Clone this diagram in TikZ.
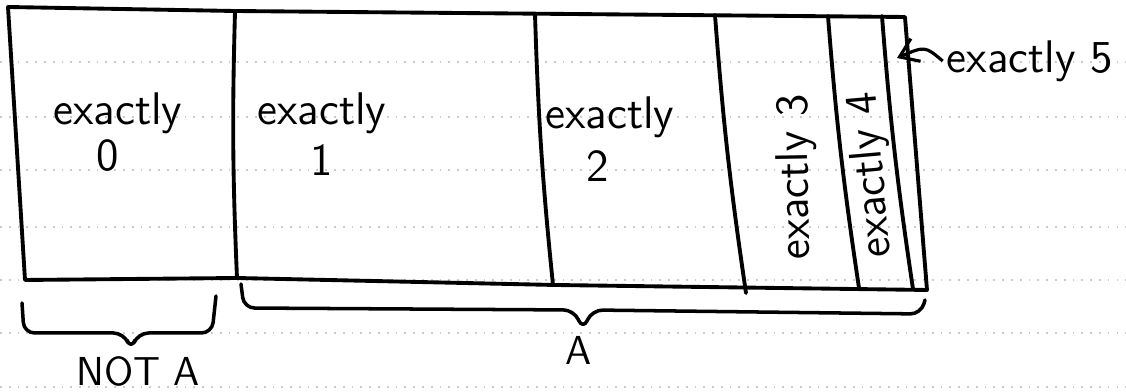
\documentclass[tikz,border=0pt]{standalone}
\usepackage{tikz}
\usetikzlibrary{arrows.meta, calc}

\begin{document}
\begin{tikzpicture}[
    x=0.01cm, y=-0.01cm,
    ink/.style={line width=1.1pt, line join=round, line cap=round},
    brc/.style={line width=1pt, line join=round, line cap=round, rounded corners=3pt},
    hand/.style={font=\sffamily\fontsize{13}{15}\selectfont, inner sep=1pt},
    setlabel/.style={font=\sffamily\fontsize{11.5}{13}\selectfont, inner sep=0pt},
    ruling/.style={gray!40, dotted, line width=0.5pt}
  ]
  \useasboundingbox (0,0) rectangle (1126,392);

  % ruled paper
  \foreach \y in {62,117,170,227,280,333,387}
    \draw[ruling] (0,\y) -- (1126,\y);

  % corners of the box
  \coordinate (tl) at (8,7);
  \coordinate (tr) at (905,17);
  \coordinate (br) at (927,290);
  \coordinate (bl) at (25,280);

  % outer box
  \draw[ink] (tl) -- (234,11) -- (tr) -- (br) -- (555,285) -- (237,278) -- (bl) -- cycle;

  % dividers between the parts
  \foreach \xa/\ya/\xb/\yb in {235/12/237/278, 535/14/553/285, 715/15/746/293,
                              828/16/859/288, 882/16/913/289}
    \draw[ink] (\xa,\ya) to[bend right=2] (\xb,\yb);

  % labels in the parts
  \node[hand] (e0) at (118,113) {exactly};
  \node[hand] (n0) at (108,156) {0};
  \node[hand] (e1) at (322,113) {exactly};
  \node[hand] (n1) at (322,160) {1};
  \node[hand] (e2) at (610,117) {exactly};
  \node[hand] (n2) at (598,166) {2};
  \node[hand, rotate=91] (e3) at (797,177) {exactly 3};
  \node[hand, rotate=95] (e4) at (872,175) {exactly 4};
  \node[hand] (e5) at (1030,61) {exactly 5};

  % pointer to the last part
  \coordinate (c5) at (897,58);
  \draw[line width=0.9pt, -{Straight Barb[length=5pt, width=7pt]}]
    (e5.west) .. controls (925,46) .. (c5);

  % braces
  \draw[brc] (22,303) -- (24,333) -- (124,333) -- (131,350) -- (138,333)
    -- (212,333) -- (216,296);
  \node[setlabel] (notA) at (138,371) {NOT A};

  \draw[brc] (241,284) -- (244,308) -- (574,310) -- (583,330) -- (592,310)
    -- (921,314) -- (925,300);
  \node[setlabel] (A) at (579,350) {A};
\end{tikzpicture}
\end{document}
